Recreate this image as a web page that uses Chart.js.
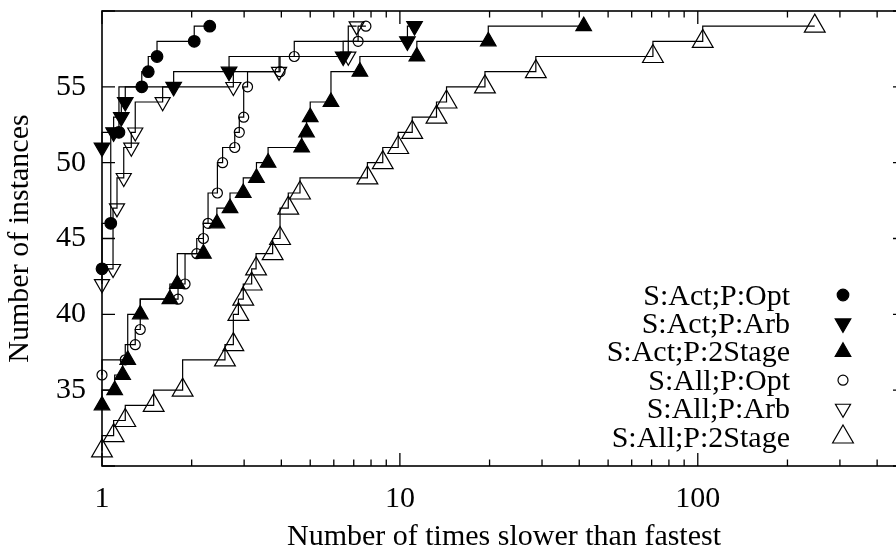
<!DOCTYPE html>
<html>
<head>
<meta charset="utf-8">
<script src="https://cdn.jsdelivr.net/npm/chart.js@4/dist/chart.umd.min.js"></script>
<style>
  html, body { margin: 0; padding: 0; background: #fff; overflow: hidden; }
  #wrap { width: 910px; height: 552px; }
  canvas { display: block; }
</style>
</head>
<body>
<div id="wrap"><canvas id="profile" width="910" height="552"></canvas></div>
<script>
// series labels, in legend order
const seriesNames = ["S:Act;P:Opt", "S:Act;P:Arb", "S:Act;P:2Stage", "S:All;P:Opt", "S:All;P:Arb", "S:All;P:2Stage"];

// ratio to fastest (x) and number of instances (y)
const actOptX = [1, 1.07, 1.14, 1.36, 1.43, 1.53, 2.04, 2.30];
const actOptY = [43, 46, 52, 55, 56, 57, 58, 59];

const actArbX = [1, 1.094, 1.161, 1.197, 1.74, 2.67, 6.45, 10.6, 11.2];
const actArbY = [51, 52, 53, 54, 55, 56, 57, 58, 59];

const act2StageX = [1, 1.103, 1.173, 1.22, 1.344, 1.69, 1.79, 2.19, 2.43, 2.69, 2.98, 3.30, 3.61, 4.68, 4.86, 5.0, 5.87, 7.34, 11.4, 19.8, 41.4];
const act2StageY = [34, 35, 36, 37, 40, 41, 42, 44, 46, 47, 48, 49, 50, 51, 52, 53, 54, 56, 57, 58, 59];

const allOptX = [1, 1.197, 1.293, 1.344, 1.80, 1.90, 2.08, 2.19, 2.27, 2.44, 2.54, 2.79, 2.89, 2.99, 3.08, 3.96, 4.42, 7.24, 7.69];
const allOptY = [36, 37, 38, 39, 41, 42, 44, 45, 46, 48, 50, 51, 52, 53, 55, 56, 57, 58, 59];

const allArbX = [1, 1.089, 1.123, 1.183, 1.254, 1.293, 1.598, 2.76, 3.93, 6.71, 7.16];
const allArbY = [42, 43, 47, 49, 51, 52, 54, 55, 56, 57, 59];

const all2StageX = [1, 1.094, 1.197, 1.491, 1.865, 2.587, 2.76, 2.87, 2.98, 3.18, 3.29, 3.74, 3.96, 4.22, 4.62, 7.78, 8.76, 9.87, 11.0, 13.27, 14.34, 19.3, 28.6, 70.7, 103.9, 247];
const all2StageY = [31, 32, 33, 34, 35, 37, 38, 40, 41, 42, 43, 44, 45, 47, 48, 49, 50, 51, 52, 53, 54, 55, 56, 57, 58, 59];

const xTickLabels = [1, 10, 100];
const yTickLabels = [35, 40, 45, 50, 55];

const FONT = "'Liberation Serif', 'Times New Roman', serif";

function pts(xs, ys) {
  return xs.map((x, i) => ({ x: x, y: ys[i] }));
}

// marker look per series: [style, radius, rotation, filled]
const markers = [
  ["circle", 5.8, 0, true],
  ["triangle", 9, 180, true],
  ["triangle", 9, 0, true],
  ["circle", 5, 0, false],
  ["triangle", 8.7, 180, false],
  ["triangle", 12, 0, false]
];

const seriesData = [
  pts(actOptX, actOptY),
  pts(actArbX, actArbY),
  pts(act2StageX, act2StageY),
  pts(allOptX, allOptY),
  pts(allArbX, allArbY),
  pts(all2StageX, all2StageY)
];

const datasets = seriesData.map((d, i) => {
  const m = markers[i];
  return {
    label: seriesNames[i],
    data: d,
    stepped: "after",
    borderColor: "#000",
    borderWidth: 1.2,
    pointStyle: m[0],
    pointRadius: m[1],
    pointRotation: m[2],
    pointBorderColor: "#000",
    pointBorderWidth: 1.2,
    pointBackgroundColor: m[3] ? "#000" : "rgba(0,0,0,0)",
    clip: false
  };
});

function drawMarker(ctx, m, x, y) {
  const r = m[1];
  ctx.save();
  ctx.lineWidth = 1.2;
  ctx.strokeStyle = "#000";
  ctx.fillStyle = "#000";
  ctx.beginPath();
  if (m[0] === "circle") {
    ctx.arc(x, y, r, 0, Math.PI * 2);
  } else {
    let rad = m[2] * Math.PI / 180;
    for (let k = 0; k < 3; k++) {
      const px = x + Math.sin(rad) * r, py = y - Math.cos(rad) * r;
      if (k === 0) ctx.moveTo(px, py); else ctx.lineTo(px, py);
      rad += 2 * Math.PI / 3;
    }
    ctx.closePath();
  }
  if (m[3]) ctx.fill();
  ctx.stroke();
  ctx.restore();
}

// gnuplot-like frame with inward ticks on all four sides
const framePlugin = {
  id: "frame",
  afterDatasetsDraw(chart) {
    const { ctx, chartArea: a, scales } = chart;
    const xs = scales.x, ys = scales.y;
    ctx.save();
    ctx.strokeStyle = "#000";
    ctx.lineWidth = 1.3;
    ctx.beginPath();
    // x ticks: majors at decades, minors in between
    for (let dec = 1; dec <= 100; dec *= 10) {
      for (let k = 1; k <= 9; k++) {
        const v = dec * k;
        if (v > xs.max) break;
        const px = xs.getPixelForValue(v);
        const len = k === 1 ? 13 : 6.5;
        ctx.moveTo(px, a.bottom); ctx.lineTo(px, a.bottom - len);
        ctx.moveTo(px, a.top); ctx.lineTo(px, a.top + len);
      }
    }
    for (let v = 30; v <= 60; v += 5) {
      const py = ys.getPixelForValue(v);
      ctx.moveTo(a.left, py); ctx.lineTo(a.left + 13, py);
      ctx.moveTo(a.right, py); ctx.lineTo(a.right - 13, py);
    }
    ctx.stroke();
    ctx.lineWidth = 1.6;
    ctx.strokeRect(a.left, a.top, a.right - a.left, a.bottom - a.top);
    ctx.restore();
  }
};

// legend: text right-aligned, marker to the right of it
const keyPlugin = {
  id: "key",
  afterDraw(chart) {
    const ctx = chart.ctx;
    ctx.save();
    ctx.font = "30px " + FONT;
    ctx.fillStyle = "#000";
    ctx.textAlign = "right";
    ctx.textBaseline = "alphabetic";
    seriesNames.forEach((name, i) => {
      const y = 295 + i * 28.4;
      ctx.fillText(name, 790, y + 9.5);
      drawMarker(ctx, markers[i], 843, y);
    });
    ctx.restore();
  }
};

new Chart(document.getElementById("profile"), {
  type: "line",
  data: { datasets: datasets },
  plugins: [framePlugin, keyPlugin],
  options: {
    responsive: false,
    devicePixelRatio: 1,
    animation: false,
    layout: { autoPadding: false, padding: { top: 11, right: 4, left: 0, bottom: 0 } },
    plugins: {
      legend: { display: false },
      tooltip: { enabled: false }
    },
    scales: {
      x: {
        type: "logarithmic",
        min: 1,
        max: 500,
        grid: { display: false, drawTicks: false },
        border: { display: false },
        afterBuildTicks: s => { s.ticks = xTickLabels.map(v => ({ value: v })); },
        afterFit: s => { s.height = 86; s.paddingLeft = 0; s.paddingRight = 0; },
        ticks: {
          autoSkip: false,
          maxRotation: 0,
          padding: 15,
          color: "#000",
          font: { family: FONT, size: 30 },
          callback: v => String(v)
        },
        title: {
          display: true,
          text: "Number of times slower than fastest",
          color: "#000",
          font: { family: FONT, size: 30, lineHeight: 1 },
          padding: { top: 0, bottom: 0 }
        }
      },
      y: {
        type: "linear",
        min: 30,
        max: 60,
        grid: { display: false, drawTicks: false },
        border: { display: false },
        afterBuildTicks: s => { s.ticks = yTickLabels.map(v => ({ value: v })); },
        afterFit: s => { s.width = 102; s.paddingTop = 0; s.paddingBottom = 0; },
        ticks: {
          padding: 16,
          color: "#000",
          font: { family: FONT, size: 30 },
          callback: v => String(v)
        },
        title: {
          display: true,
          text: "Number of instances",
          color: "#000",
          font: { family: FONT, size: 30, lineHeight: 1 },
          padding: { top: 5, bottom: 0 }
        }
      }
    }
  }
});
</script>
</body>
</html>
